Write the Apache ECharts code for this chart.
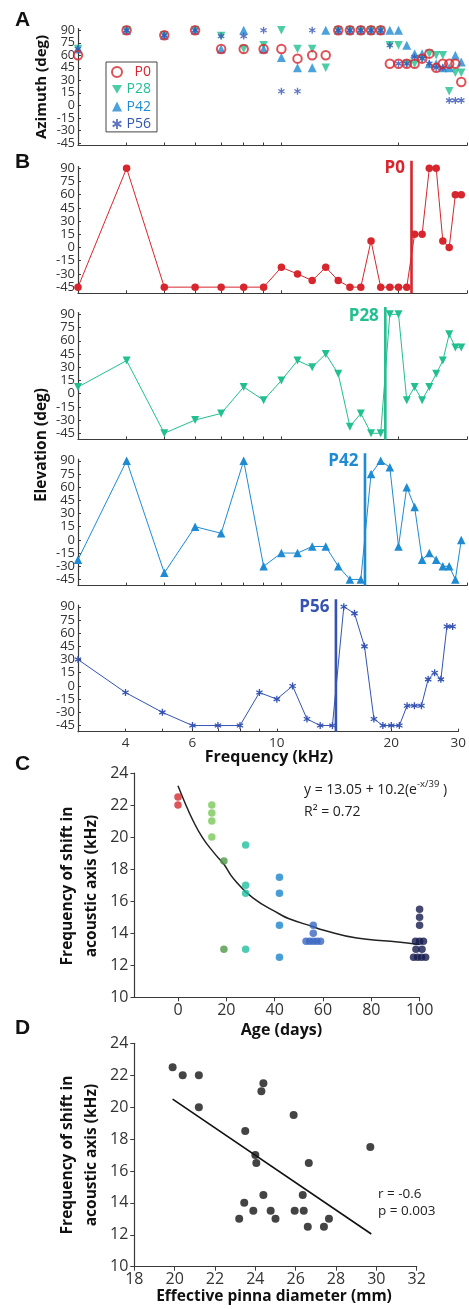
<!DOCTYPE html>
<html><head><meta charset="utf-8">
<script src="https://cdn.jsdelivr.net/npm/echarts@6/dist/echarts.min.js"></script>
<style>html,body{margin:0;padding:0;background:#fff}#c{width:469px;height:1309px}</style>
</head><body><div id="c"></div>
<script>
// ---------- DATA ----------
const freqs = [3,4,5,6,7,8,9,10,11,12,13,14,15,16,17,18,19,20,21,22,23,24,25,26,27,28,29];
const freqTicks = [4,5,6,7,8,9,10,20,30];
const freqLabels = [4,6,10,20,30];
const degTicks = [-45,-30,-15,0,15,30,45,60,75,90];
const degTicksA1 = [-30,0,30,60,90];   // panel A labels, split in two sets
const degTicksA2 = [-45,-15,15,45,75];

// Panel A: azimuth (deg)
const azP0  = [60,90,84,90,67.5,67.5,67.5,67.5,56,60,60,90,90,90,90,90,50,50,50,50,56,62,45,50,50,50,28];
const azP28 = [67.5,90,84,90,83,67.5,72,90,67.5,67.5,45,90,90,90,90,90,72,72,50,50,56,62,60,60,17,39,39];
const azP42 = [67.5,90,84,90,67.5,90,67.5,57.5,45,45,90,90,90,90,90,90,90,90,72,62,62,50,50,45,45,60,52];
const azP56 = [67.5,90,84,90,83,83,90,17,17,90,null,90,90,90,90,90,72,50,50,58,56,50,45,45,6,6,6];

// Panel B: elevation (deg)
const elP0  = [-45,90,-45,-45,-45,-45,-45,-22.5,-30,-37.5,-22.5,-37.5,-45,-45,7.5,-45,-45,-45,-45,15,15,90,90,7.5,0,60,60];
const elP28 = [7.5,37.5,-45,-30,-22.5,7.5,-7.5,15,37.5,30,45,22.5,-37.5,-22.5,-45,-45,90,90,-7.5,7.5,-7.5,7.5,22.5,37.5,67.5,52.5,52.5];
const elP42 = [-22.5,90,-37.5,15,7.5,90,-30,-15,-15,-7.5,-7.5,-30,-45,-45,75,90,82.5,-7.5,60,37.5,-22.5,-15,-22.5,-30,-30,-45,0];
const elP56 = [30,-7.5,-30,-45,-45,-45,-7.5,-15,0,-37.5,-45,-45,90,82.5,45,-37.5,-45,-45,-45,-22.5,-22.5,-22.5,7.5,15,7.5,67.5,67.5];
// frequency of acoustic-axis shift (kHz), marked by vertical lines
const shiftFreq = {P0:21.6, P28:18.5, P42:16.4, P56:14.3};
const shiftLineDeg = [-52, 98.5];
const shiftLabelDeg = {P0:90, P28:88, P42:90, P56:90};

// Panel C: age (days) vs shift frequency (kHz)
const cAgeP0 = [0,0],            cValP0 = [22.5,22];
const cAgeP14 = [14,14,14,14],   cValP14 = [22,21.5,21,20];
const cAgeP19 = [19,19],         cValP19 = [18.5,13];
const cAgeP28 = [28,28,28,28],   cValP28 = [19.5,17,16.5,13];
const cAgeP42 = [42,42,42,42],   cValP42 = [17.5,16.5,14.5,12.5];
const cAgeP56 = [56,56,53,54.5,56,57.5,59], cValP56 = [14.5,14,13.5,13.5,13.5,13.5,13.5];
const cAgeP100 = [100,100,100,98.3,100,101.6,98.5,101,97.5,99.2,100.8,102.5];
const cValP100 = [15.5,15,14.5,13.5,13.5,13.5,13,13,12.5,12.5,12.5,12.5];
const cFitX = [0,3,6,10,15,19,23,31,42,46,56,60,74,88,100];
const cFitY = [23.2,22.1,21.1,20.0,19.0,18.3,17.4,16.2,15.2,14.9,14.4,14.2,13.7,13.5,13.3];
const cTicksX = [0,20,40,60,80,100];

// Panel D: effective pinna diameter (mm) vs shift frequency (kHz)
const dDiam = [19.9,20.4,21.2,21.2,24.4,24.3,23.5,24.0,24.05,25.9,26.65,29.7,24.4,23.45,23.9,24.76,23.2,25.0,25.95,26.4,26.35,26.6,27.4,27.65];
const dFreq = [22.5,22,22,20,21.5,21,18.5,17,16.5,19.5,16.5,17.5,14.5,14,13.5,13.5,13,13,13.5,13.5,14.5,12.5,12.5,13];
const dFitX = [19.9,29.75];
const dFitY = [20.5,12.05];

// ---------- STYLE ----------
const FONT = '"Open Sans","Liberation Sans",sans-serif';
const AX = '#3a3a3a';
const COL = {P0:'#d7262e', P28:'#22bf90', P42:'#1f8bd2', P56:'#3553b3'};
const cCol = {P0:'#d42a2f', P14:'#78c957', P19:'#4e9a47', P28:'#22bfa0', P42:'#1a84cb', P56:'#3b66c2', P100:'#151c4d'};
const ASTER = 'path://M-0.9,-5L0.9,-5L0.9,5L-0.9,5Z M3.88,-3.28L4.78,-1.72L-3.88,3.28L-4.78,1.72Z M-4.78,-1.72L-3.88,-3.28L4.78,1.72L3.88,3.28Z';
const DTRI = 'path://M0,0L10,0L5,8.66Z';
const SYM = {P0:'circle', P28:DTRI, P42:'triangle', P56:ASTER};

const pairs = (xs, ys) => xs.map((x,i)=>[x, ys[i]]).filter(d=>d[1]!=null);

// ---------- LAYOUT ----------
const grids = [
  {left:78, top:28.6, width:389, height:116.9},   // A
  {left:78, top:166.5, width:389, height:126.8},  // B P0
  {left:78, top:312.6, width:389, height:126.8},  // B P28
  {left:78, top:459, width:389, height:126.6},    // B P42
  {left:78, top:605, width:389, height:126.7},    // B P56
  {left:134.5, top:773, width:285.1, height:224.3}, // C
  {left:134.3, top:1043.3, width:282.4, height:223.4} // D
];

function freqAxis(gi, showLabels){
  return {type:'log', logBase:10, gridIndex:gi, min:3, max:30,
    axisLine:{show:true, onZero:false, lineStyle:{color:AX, width:1.2}},
    axisTick:{show:true, inside:true, length:3, customValues:freqTicks, lineStyle:{color:AX}},
    minorTick:{show:false}, splitLine:{show:false},
    axisLabel:{show:showLabels, customValues:freqLabels, color:'#333', fontSize:13.5, fontFamily:FONT, margin:4}};
}
function degAxis(gi, min, max, fs, labels, lineShow){
  return {type:'value', gridIndex:gi, min:min, max:max, position:'left', offset:0,
    axisLine:{show:lineShow, onZero:false, lineStyle:{color:AX, width:1.2}},
    axisTick:{show:lineShow, inside:true, length:3, customValues:degTicks, lineStyle:{color:AX}},
    splitLine:{show:false},
    axisLabel:{customValues:labels, color:'#333', fontSize:fs, fontFamily:FONT, margin:3,
      showMinLabel:true, showMaxLabel:true}};
}
function valAxis(gi, min, max, opts){
  const a = {type:'value', gridIndex:gi, min:min, max:max,
    axisLine:{show:true, onZero:false, lineStyle:{color:AX, width:1.2}},
    axisTick:{show:true, inside:false, length:4, lineStyle:{color:AX}},
    splitLine:{show:false},
    axisLabel:{color:'#333', fontSize:16, fontFamily:FONT, margin:6}};
  if (opts.interval) a.interval = opts.interval;
  if (opts.custom){ a.axisTick.customValues = opts.custom; a.axisLabel.customValues = opts.custom; }
  if (opts.margin!=null) a.axisLabel.margin = opts.margin;
  return a;
}

const xAxis = [freqAxis(0,false), freqAxis(1,false), freqAxis(2,false), freqAxis(3,false), freqAxis(4,true),
  valAxis(5,-18,100,{custom:cTicksX, margin:5}), valAxis(6,18,32,{interval:2, margin:5})];
const yAxis = [degAxis(0,-48,92,12.5,degTicksA1,true),
  degAxis(1,-52,92,13,degTicks,true), degAxis(2,-52,92,13,degTicks,true), degAxis(3,-52,92,13,degTicks,true), degAxis(4,-52,92,13,degTicks,true),
  valAxis(5,10,24,{interval:2}), valAxis(6,10,24,{interval:2}),
  degAxis(0,-48,92,12.5,degTicksA2,false)];

const series = [];
// Panel A scatter (draw order P28, P42, P56, P0 on top)
const az = {P0:azP0, P28:azP28, P42:azP42, P56:azP56};
const aSize = {P0:8.5, P28:8.5, P42:9, P56:7};
['P28','P42','P56','P0'].forEach((k,idx)=>{
  const s = {type:'scatter', name:k, xAxisIndex:0, yAxisIndex:0, data:pairs(freqs, az[k]),
    symbol:SYM[k], symbolSize:aSize[k], z:2+idx, clip:false, silent:true,
    itemStyle:{color:COL[k]}};
  if (k==='P0') s.itemStyle = {color:'rgba(255,255,255,0)', borderColor:COL.P0, borderWidth:2};
  series.push(s);
});
// Panel B lines
const el = {P0:elP0, P28:elP28, P42:elP42, P56:elP56};
const bSize = {P0:7.5, P28:8, P42:8.5, P56:7};
['P0','P28','P42','P56'].forEach((k,i)=>{
  const gi = i+1;
  series.push({type:'line', name:k+' elevation', xAxisIndex:gi, yAxisIndex:gi, data:pairs(freqs, el[k]),
    symbol:SYM[k], symbolSize:bSize[k], showSymbol:true, clip:false, silent:true, z:3,
    lineStyle:{color:COL[k], width:1}, itemStyle:{color:COL[k]}, emphasis:{disabled:true},
    markPoint:{symbol:'circle', symbolSize:1, silent:true, animation:false, itemStyle:{color:'rgba(0,0,0,0)'},
      label:{show:true, position:'left', distance:6, formatter:k, color:COL[k], fontWeight:'bold', fontSize:17, fontFamily:FONT},
      data:[{coord:[shiftFreq[k], shiftLabelDeg[k]]}]}
  });
  // vertical line at the shift frequency
  series.push({type:'line', name:k+' shift', xAxisIndex:gi, yAxisIndex:gi,
    data:shiftLineDeg.map(d=>[shiftFreq[k], d]), symbol:'none', clip:false, silent:true, z:4,
    lineStyle:{color:COL[k], width:2.6}, emphasis:{disabled:true}});
});
// Panel C
const cGroups = [['P0',cAgeP0,cValP0],['P14',cAgeP14,cValP14],['P19',cAgeP19,cValP19],['P28',cAgeP28,cValP28],
  ['P42',cAgeP42,cValP42],['P56',cAgeP56,cValP56],['P100',cAgeP100,cValP100]];
series.push({type:'line', name:'fit C', xAxisIndex:5, yAxisIndex:5, data:pairs(cFitX,cFitY), smooth:true,
  symbol:'none', clip:false, silent:true, z:2, lineStyle:{color:'#222', width:1.5}});
cGroups.forEach(g=>{
  series.push({type:'scatter', name:'C '+g[0], xAxisIndex:5, yAxisIndex:5, data:pairs(g[1],g[2]),
    symbol:'circle', symbolSize:7.5, clip:false, silent:true, z:3, itemStyle:{color:cCol[g[0]]}});
});
// Panel D
series.push({type:'line', name:'fit D', xAxisIndex:6, yAxisIndex:6, data:pairs(dFitX,dFitY),
  symbol:'none', clip:false, silent:true, z:2, lineStyle:{color:'#111', width:1.6}});
series.push({type:'scatter', name:'D', xAxisIndex:6, yAxisIndex:6, data:pairs(dDiam,dFreq),
  symbol:'circle', symbolSize:8, clip:false, silent:true, z:3, itemStyle:{color:'#151515'}});

// ---------- TEXT ----------
function txt(x, y, text, font, opts){
  opts = opts || {};
  return {type:'text', x:x, y:y, rotation:opts.rot||0, silent:true, z:10,
    style:{text:text, font:font, fill:opts.fill||'#111', align:opts.align||'center', verticalAlign:'middle'}};
}
const BOLD = (s)=> 'bold '+s+'px '+FONT;
const LETTER = 'bold 21px "Liberation Sans",Arial,sans-serif';
const graphic = [
  txt(22.5, 20, 'A', LETTER),
  txt(22.5, 162.5, 'B', LETTER),
  txt(22.5, 764.5, 'C', LETTER),
  txt(22.5, 1028.5, 'D', LETTER),
  txt(41.5, 87, 'Azimuth (deg)', BOLD(15), {rot:Math.PI/2}),
  txt(42, 445, 'Elevation (deg)', BOLD(15.5), {rot:Math.PI/2}),
  txt(269, 757, 'Frequency (kHz)', BOLD(16)),
  txt(68, 886, 'Frequency of shift in', BOLD(15.5), {rot:Math.PI/2}),
  txt(91.5, 886, 'acoustic axis (kHz)', BOLD(15.5), {rot:Math.PI/2}),
  txt(281.5, 1030, 'Age (days)', BOLD(16)),
  txt(68, 1155, 'Frequency of shift in', BOLD(15.5), {rot:Math.PI/2}),
  txt(91.5, 1155, 'acoustic axis (kHz)', BOLD(15.5), {rot:Math.PI/2}),
  txt(274, 1297, 'Effective pinna diameter (mm)', BOLD(15.5)),
  {type:'text', x:304, y:788, silent:true, z:10,
    style:{text:'{m|y = 13.05 + 10.2(e}{s|-x/39}{m| )}', verticalAlign:'middle', align:'left',
      rich:{m:{font:'14px '+FONT, fill:'#222', lineHeight:18, verticalAlign:'bottom'},
            s:{font:'9.5px '+FONT, fill:'#222', lineHeight:18, verticalAlign:'top'}}}},
  txt(304, 812, 'R\u00b2 = 0.72', '14px '+FONT, {align:'left', fill:'#222'}),
  txt(378, 1194, 'r = -0.6', '13.5px '+FONT, {align:'left', fill:'#222'}),
  txt(378, 1211, 'p = 0.003', '13.5px '+FONT, {align:'left', fill:'#222'})
];

const option = {
  animation:false,
  backgroundColor:'#fff',
  grid: grids,
  xAxis: xAxis,
  yAxis: yAxis,
  series: series,
  legend:{show:true, left:106, top:62, orient:'vertical', selectedMode:false,
    data:['P0','P28','P42','P56'].map(k=>({name:k, textStyle:{color:COL[k]}})),
    itemWidth:10, itemHeight:10, itemGap:3.3, itemSymbolKeepAspect:true,
    padding:[3,6,1,5], backgroundColor:'#fff', borderColor:'#444', borderWidth:1, borderRadius:0,
    formatter: n => '{a|'+n+'}',
    textStyle:{fontSize:14, fontFamily:FONT, lineHeight:14, rich:{a:{width:24, align:'right', fontSize:14, fontFamily:FONT, lineHeight:14}}}},
  graphic: graphic
};
const chart = echarts.init(document.getElementById('c'), null, {renderer:'canvas'});
chart.setOption(option);
</script></body></html>
